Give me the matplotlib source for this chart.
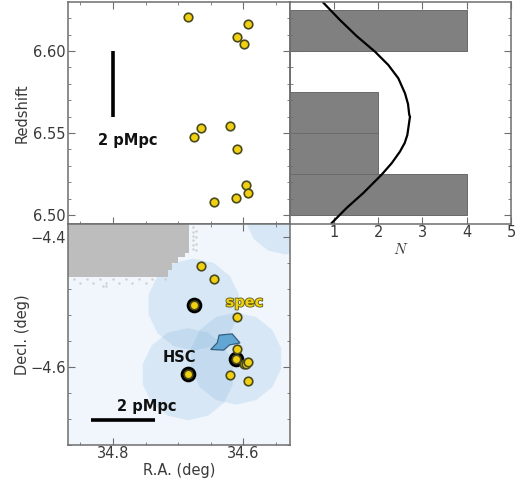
import matplotlib
matplotlib.use('Agg')
import matplotlib.pyplot as plt
import matplotlib.patheffects as pe
from matplotlib.patches import Polygon, RegularPolygon
from matplotlib.ticker import MultipleLocator

# spectroscopic sample
ra = [34.685, 34.592, 34.610, 34.599, 34.665, 34.676, 34.620, 34.610, 34.596, 34.593, 34.611, 34.645]
dec = [-4.611, -4.6215, -4.572, -4.595, -4.445, -4.504, -4.612, -4.5236, -4.596, -4.592, -4.587, -4.465]
redshift = [6.6205, 6.6166, 6.6085, 6.6045, 6.553, 6.5476, 6.5545, 6.5404, 6.5185, 6.5134, 6.5104, 6.508]

# HSC overdensity members
hsc_ra = [34.676, 34.685, 34.611]
hsc_dec = [-4.504, -4.611, -4.587]

# coverage blobs around the members, radius in deg
blob_ra = [34.676, 34.685, 34.611, 34.535]
blob_dec = [-4.504, -4.611, -4.587, -4.365]
blob_r = [0.071, 0.071, 0.071, 0.062]

mask_ra = [34.869, 34.683, 34.683, 34.689, 34.689, 34.700, 34.700, 34.709, 34.709, 34.715, 34.715, 34.869]
mask_dec = [-4.38, -4.38, -4.425, -4.425, -4.431, -4.431, -4.440, -4.440, -4.451, -4.451, -4.462, -4.462]

# speckles along the mask edge
speck_ra = [34.677, 34.677, 34.677, 34.677, 34.677, 34.677, 34.672, 34.672, 34.672, 34.672,
            34.86, 34.84, 34.82, 34.80, 34.78, 34.76, 34.74, 34.72,
            34.85, 34.83, 34.81, 34.79, 34.77, 34.75, 34.815, 34.81]
speck_dec = [-4.385, -4.392, -4.398, -4.405, -4.412, -4.418, -4.39, -4.40, -4.41, -4.42,
             -4.465, -4.465, -4.465, -4.465, -4.465, -4.465, -4.465, -4.465,
             -4.470, -4.470, -4.470, -4.470, -4.470, -4.470, -4.476, -4.476]

over_ra = [34.650, 34.640, 34.637, 34.617, 34.605, 34.621, 34.630]
over_dec = [-4.573, -4.563, -4.551, -4.549, -4.563, -4.566, -4.574]

bin_left = [6.50, 6.525, 6.55, 6.575, 6.60]
counts = [4, 2, 2, 0, 4]

curve_n = [0.763, 1.14, 1.517, 1.93, 2.23, 2.456, 2.607, 2.675, 2.704, 2.72, 2.66, 2.60, 2.494, 2.31, 2.08, 1.666, 1.29, 0.953]
curve_z = [6.6295, 6.6189, 6.6091, 6.5996, 6.5915, 6.5834, 6.5742, 6.5677, 6.561, 6.56, 6.5488, 6.5439, 6.5387, 6.5317, 6.5246, 6.5134, 6.5043, 6.4951]

W, H = 519, 482
GREY = '#6e6e6e'
TXT = '#3a3a3a'

plt.rcParams['font.family'] = 'DejaVu Sans'
plt.rcParams['font.size'] = 10.5
plt.rcParams['mathtext.fontset'] = 'cm'

fig = plt.figure(figsize=(W / 100, H / 100), dpi=100)


def box(x0, y0, x1, y1):
    return fig.add_axes([x0 / W, 1 - y1 / H, (x1 - x0) / W, (y1 - y0) / H])


ax_z = box(68, 2, 289.5, 224)
ax_n = box(289.5, 2, 511, 224)
ax_m = box(68, 224, 289.5, 445)

for ax in (ax_z, ax_n, ax_m):
    ax.tick_params(which='both', direction='in', top=True, right=True, color=GREY,
                   labelcolor=TXT, pad=1.5)
    ax.tick_params(axis='x', which='both', pad=1)
    ax.tick_params(which='major', length=5)
    ax.tick_params(which='minor', length=2.5)
    for s in ax.spines.values():
        s.set_color(GREY)
        s.set_linewidth(1.1)

# redshift vs RA
ax_z.scatter(ra, redshift, s=38, c='#f0d010', edgecolors='#4a4a20', linewidths=1.2, zorder=3)
ax_z.plot([34.8, 34.8], [6.56, 6.60], color='k', lw=2.6, solid_capstyle='butt')
ax_z.text(34.778, 6.5453, '2 pMpc', ha='center', va='center', fontsize=10.5, fontweight='bold', color='#111111')
ax_z.set_xlim(34.869, 34.529)
ax_z.set_ylim(6.4945, 6.6299)
ax_z.xaxis.set_major_locator(MultipleLocator(0.2))
ax_z.xaxis.set_minor_locator(MultipleLocator(0.05))
ax_z.yaxis.set_major_locator(MultipleLocator(0.05))
ax_z.yaxis.set_minor_locator(MultipleLocator(0.01))
ax_z.set_yticks([6.50, 6.55, 6.60])
ax_z.set_yticklabels(['6.50', '6.55', '6.60'])
ax_z.tick_params(labelbottom=False)
ax_z.set_ylabel('Redshift', color=TXT, fontsize=10.5, labelpad=2.5)

# histogram
ax_n.barh(bin_left, counts, height=0.025, align='edge', color='#808080', edgecolor='#6a6a6a', linewidth=0.7)
ax_n.plot(curve_n, curve_z, color='k', lw=1.6)
ax_n.set_xlim(0, 5)
ax_n.set_ylim(6.4945, 6.6299)
ax_n.set_xticks([1, 2, 3, 4, 5])
ax_n.yaxis.set_major_locator(MultipleLocator(0.05))
ax_n.yaxis.set_minor_locator(MultipleLocator(0.01))
ax_n.tick_params(labelleft=False)
ax_n.set_xlabel('$N$', color=TXT, fontsize=11, labelpad=1)

# sky map
ax_m.set_facecolor('#f0f6fc')
for bx, by, br in zip(blob_ra, blob_dec, blob_r):
    ax_m.add_patch(RegularPolygon((bx, by), 14, radius=br, facecolor='#6ea8d8', alpha=0.18, edgecolor='none', zorder=1))
ax_m.add_patch(Polygon(list(zip(mask_ra, mask_dec)), closed=True, facecolor='#bdbdbd', edgecolor='none', zorder=2))
ax_m.scatter(speck_ra, speck_dec, s=3, c='#cfcfcf', linewidths=0, zorder=2)
ax_m.add_patch(Polygon(list(zip(over_ra, over_dec)), closed=True, facecolor='#62a6d4', edgecolor='#33607f', linewidth=0.9, zorder=2))
ax_m.scatter(hsc_ra, hsc_dec, s=105, c='k', zorder=3)
ax_m.scatter(ra, dec, s=38, c='#f0d010', edgecolors='#4a4a20', linewidths=1.2, zorder=4)
ax_m.plot([34.834, 34.735], [-4.681, -4.681], color='k', lw=2.6, solid_capstyle='butt', zorder=4)
ax_m.text(34.748, -4.6615, '2 pMpc', ha='center', va='center', fontsize=10.5, fontweight='bold', color='#111111', zorder=5)
ax_m.text(34.698, -4.5856, 'HSC', ha='center', va='center', fontsize=10.5, fontweight='bold', color='#111111', zorder=5)
ax_m.text(34.598, -4.50, 'spec', ha='center', va='center', fontsize=10.5, fontweight='bold',
          color='#f0d010', zorder=5,
          path_effects=[pe.withStroke(linewidth=1.2, foreground='#5a5a20')])
ax_m.set_xlim(34.869, 34.529)
ax_m.set_ylim(-4.72, -4.38)
ax_m.set_xticks([34.8, 34.6])
ax_m.set_xticklabels(['34.8', '34.6'])
ax_m.set_yticks([-4.6, -4.4])
ax_m.set_yticklabels(['\u22124.6', '\u22124.4'])
ax_m.xaxis.set_minor_locator(MultipleLocator(0.05))
ax_m.yaxis.set_minor_locator(MultipleLocator(0.04))
ax_m.set_xlabel('R.A. (deg)', color=TXT, fontsize=10.5, labelpad=1)
ax_m.set_ylabel('Decl. (deg)', color=TXT, fontsize=10.5, labelpad=0.5)

fig.savefig('out.png', dpi=100)
